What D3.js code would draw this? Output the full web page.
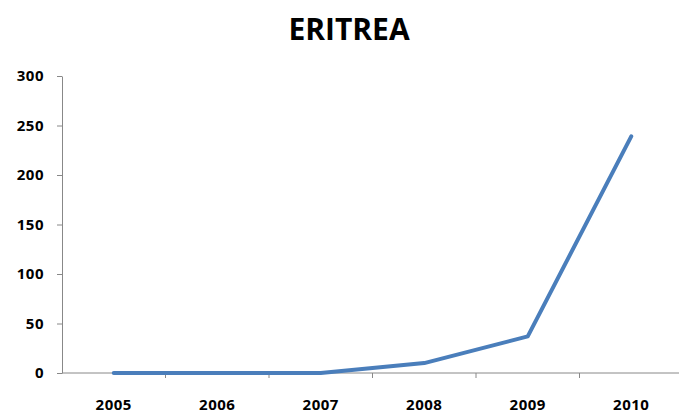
<!DOCTYPE html>
<html>
<head>
<meta charset="utf-8">
<script src="https://cdn.jsdelivr.net/npm/d3@7"></script>
<style>
body { margin:0; background:#fff; }
</style>
</head>
<body>
<div id="chart"></div>
<script>
var years = ["2005","2006","2007","2008","2009","2010"];
var values = [0, 0, 0, 10, 37, 239];
var yTicks = [0, 50, 100, 150, 200, 250, 300];

var svgWidth = 679, svgHeight = 415;
var margin = {top:76, left:62, bottom:42};
var plotRight = 683;
var y0 = svgHeight - margin.bottom; // 373

var svg = d3.select("#chart").append("svg")
    .attr("width", svgWidth)
    .attr("height", svgHeight);

var x = d3.scaleBand().domain(years).range([margin.left, plotRight]);
var y = d3.scaleLinear().domain([0, 300]).range([y0, margin.top]);

svg.append("text")
    .attr("x", 349).attr("y", 40)
    .attr("text-anchor", "middle")
    .attr("font-family", "'Open Sans', Lato, sans-serif")
    .attr("font-weight", "bold")
    .attr("font-size", "30px")
    .attr("fill", "#000")
    .text("ERITREA");

// y axis
var leftAxis = d3.axisLeft(y).tickValues(yTicks).tickSize(5).tickPadding(13).tickSizeOuter(0);
var gy = svg.append("g").attr("transform", `translate(${margin.left},0)`).call(leftAxis);
// x axis: ticks at category boundaries
var gx = svg.append("g").attr("transform", `translate(0,${y0})`);
gx.append("line").attr("x1", margin.left).attr("x2", plotRight).attr("stroke", "#888");
gx.selectAll("line.tk").data(years).enter().append("line")
    .attr("class", "tk")
    .attr("x1", d => x(d) + x.bandwidth()).attr("x2", d => x(d) + x.bandwidth())
    .attr("y1", 0).attr("y2", 5).attr("stroke", "#888");
gx.selectAll("text").data(years).enter().append("text")
    .attr("x", d => x(d) + x.bandwidth()/2)
    .attr("y", 37)
    .attr("text-anchor", "middle")
    .text(d => d);

[gy, gx].forEach(function(g) {
    g.selectAll("path, line").attr("stroke", "#888");
    g.selectAll("text")
        .attr("font-family", "'Open Sans', Lato, sans-serif")
        .attr("font-weight", "bold")
        .attr("font-size", "15px")
        .attr("letter-spacing", "0.5px")
        .attr("fill", "#000");
});

var line = d3.line()
    .x((d, i) => x(years[i]) + x.bandwidth()/2)
    .y(d => y(d));

svg.append("path")
    .datum(values)
    .attr("d", line)
    .attr("fill", "none")
    .attr("stroke", "#4a7ebb")
    .attr("stroke-width", 4)
    .attr("stroke-linejoin", "round")
    .attr("stroke-linecap", "round");
</script>
</body>
</html>
